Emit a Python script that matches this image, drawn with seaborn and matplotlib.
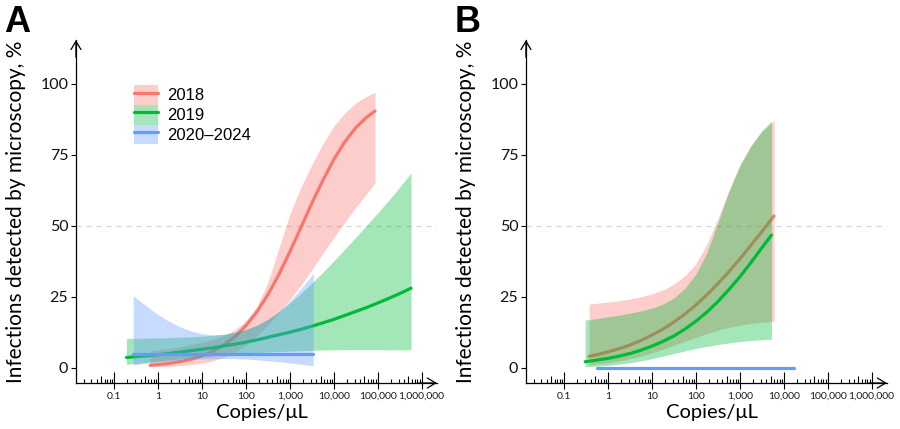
import numpy as np
import pandas as pd
import matplotlib
matplotlib.use("Agg")
import matplotlib.pyplot as plt
import seaborn as sns
from matplotlib.patches import Patch
from matplotlib.lines import Line2D
from matplotlib.legend_handler import HandlerTuple
from matplotlib.ticker import FixedLocator, NullFormatter, NullLocator

sns.set_theme(style="white")
plt.rcParams['font.family'] = ['Lato', 'DejaVu Sans']
plt.rcParams['text.color'] = 'black'

# ---------------- data ----------------
groups = ["2018", "2019", "2020\u20132024"]
colors = ["#F8766D", "#00BA38", "#619CFF"]

x_ticks = [0.1, 1, 10, 100, 1000, 10000, 100000, 1000000]
x_tick_labels = ["0.1", "1", "10", "100", "1,000", "10,000", "100,000", "1,000,000"]
y_ticks = [0, 25, 50, 75, 100]

# Panel A, 2018
a18_x = [0.66, 1, 1.78, 3.16, 5.62, 10, 17.8, 31.6, 56.2, 100, 178, 316, 562,
         1000, 1780, 3160, 5620, 10000, 17800, 31600, 56200, 87000]
a18_y = [0.85, 1.09, 1.52, 2.15, 2.99, 4.19, 5.8, 8.0, 10.9, 14.8, 19.7, 25.7,
         32.8, 40.8, 49.3, 57.9, 65.9, 73.3, 79.5, 84.5, 88.2, 90.4]
a18_hi = [6.0, 6.3, 6.8, 7.4, 8.1, 8.9, 9.9, 11.3, 13.4, 16.5, 21.5, 30.0,
          42.0, 54.0, 63.5, 71.5, 78.8, 85.0, 89.7, 93.2, 95.6, 97.0]
a18_lo = [0.28, 0.35, 0.5, 0.7, 1.05, 1.6, 2.4, 3.7, 5.5, 8.0, 11.2, 15.0,
          19.3, 24.0, 29.0, 34.5, 40.2, 45.8, 51.2, 56.4, 61.3, 65.0]

# Panel A, 2019
a19_x = [0.19, 0.316, 0.562, 1, 1.78, 3.16, 5.62, 10, 17.8, 31.6, 56.2, 100,
         178, 316, 562, 1000, 1780, 3160, 5620, 10000, 17800, 31600, 56200,
         100000, 178000, 316000, 575000]
a19_y = [3.6, 3.9, 4.2, 4.6, 5.0, 5.5, 6.0, 6.5, 7.0, 7.7, 8.3, 9.0, 9.8,
         10.7, 11.6, 12.5, 13.5, 14.6, 15.8, 17.0, 18.4, 19.8, 21.2, 22.8,
         24.4, 26.1, 28.0]
a19_hi = [10.3, 10.35, 10.4, 10.5, 10.6, 10.75, 10.9, 11.1, 11.4, 11.8, 12.5,
          13.5, 15.0, 17.0, 19.7, 22.8, 26.2, 29.8, 33.6, 37.6, 41.7, 45.9,
          50.2, 54.5, 58.9, 63.6, 68.6]
a19_lo = [1.2, 1.5, 1.9, 2.3, 2.7, 3.1, 3.5, 3.85, 4.2, 4.5, 4.8, 5.05, 5.3,
          5.5, 5.7, 5.85, 6.0, 6.15, 6.25, 6.3, 6.35, 6.35, 6.35, 6.35, 6.3,
          6.3, 6.25]

# Panel A, 2020-2024
a20_x = [0.27, 0.316, 0.562, 1, 1.78, 3.16, 5.62, 10, 17.8, 31.6, 56.2, 100,
         178, 316, 562, 1000, 1780, 3160, 3400]
a20_hi = [25.4, 24.5, 21.5, 18.7, 16.3, 14.4, 12.9, 12.0, 11.6, 11.7, 12.3,
          13.4, 15.0, 17.1, 19.8, 23.5, 27.8, 32.6, 33.2]
a20_lo = [0.9, 1.1, 1.6, 2.0, 2.4, 2.7, 2.95, 3.1, 3.2, 3.25, 3.2, 3.05, 2.8,
          2.5, 2.1, 1.65, 1.2, 0.75, 0.7]
a20_line_x = [0.27, 3400]
a20_line_y = [5.0, 5.0]

# Panel B, 2018
b18_x = [0.37, 0.562, 1, 1.78, 3.16, 5.62, 10, 17.8, 31.6, 56.2, 100, 178,
         316, 562, 1000, 1780, 3160, 5620, 6000]
b18_y = [4.0, 4.6, 5.6, 6.7, 8.0, 9.6, 11.5, 13.6, 16.1, 18.9, 22.1, 25.7,
         29.6, 33.8, 38.3, 43.1, 47.9, 52.9, 53.4]
b18_hi = [22.4, 22.7, 23.1, 23.6, 24.2, 25.0, 26.0, 27.4, 29.4, 32.4, 36.6,
          43.5, 52.5, 62.5, 71.5, 78.3, 83.0, 86.6, 87.0]
b18_lo = [1.0, 1.3, 1.8, 2.4, 3.2, 4.1, 5.2, 6.5, 7.9, 9.3, 10.7, 12.0, 13.2,
          14.2, 15.0, 15.6, 16.0, 16.3, 16.35]

# Panel B, 2019
b19_x = [0.3, 0.562, 1, 1.78, 3.16, 5.62, 10, 17.8, 31.6, 56.2, 100, 178, 316,
         562, 1000, 1780, 3160, 5250]
b19_y = [2.1, 2.7, 3.3, 4.1, 5.0, 6.2, 7.6, 9.3, 11.2, 13.6, 16.4, 19.6, 23.3,
         27.5, 32.0, 37.0, 42.2, 46.7]
b19_hi = [16.8, 17.3, 17.9, 18.5, 19.2, 20.0, 21.0, 22.4, 24.6, 28.0, 33.0,
          40.5, 51.0, 62.0, 71.0, 78.0, 83.5, 86.8]
b19_lo = [0.35, 0.55, 0.85, 1.25, 1.75, 2.4, 3.2, 4.1, 5.0, 5.9, 6.8, 7.5, 8.2,
          8.7, 9.2, 9.55, 9.85, 10.05]

# Panel B, 2020-2024 (no visible ribbon)
b20_line_x = [0.55, 17500]
b20_line_y = [0.0, 0.0]

panels = {
    "A": [((a18_x, a18_lo, a18_hi), (a18_x, a18_y)),
          ((a19_x, a19_lo, a19_hi), (a19_x, a19_y)),
          ((a20_x, a20_lo, a20_hi), (a20_line_x, a20_line_y))],
    "B": [((b18_x, b18_lo, b18_hi), (b18_x, b18_y)),
          ((b19_x, b19_lo, b19_hi), (b19_x, b19_y)),
          (None, (b20_line_x, b20_line_y))],
}

# ---------------- figure ----------------
fig = plt.figure(figsize=(9, 4.29), dpi=100)
axes = {
    "A": fig.add_axes([0.0844, 0.1072, 0.401, 0.7995]),
    "B": fig.add_axes([0.5844, 0.1072, 0.401, 0.7995]),
}

majors = [10.0 ** k for k in range(-1, 7)]
minors = [m * 10.0 ** k for k in range(-2, 6) for m in (2, 3, 4, 6, 7, 8, 9)]
mids = [5 * 10.0 ** k for k in range(-2, 6)]

for name, ax in axes.items():
    ax.set_xscale("log")
    ax.axhline(50, color="#D5D5D5", lw=0.9, ls=(0, (4, 4)), zorder=0.5)
    for i, (c, (band, line)) in enumerate(zip(colors, panels[name])):
        if band is not None:
            bdf = pd.DataFrame({"copies": band[0], "lo": band[1], "hi": band[2]})
            ax.fill_between(bdf["copies"], bdf["lo"], bdf["hi"], color=c,
                            alpha=0.36, lw=0, zorder=2 + 2 * i)
        ldf = pd.DataFrame({"copies": line[0], "pct": line[1]})
        sns.lineplot(data=ldf, x="copies", y="pct", color=c, lw=2.3, ax=ax,
                     estimator=None, sort=True, zorder=3 + 2 * i)

    ax.set_xlim(10 ** -1.872, 10 ** 6.348)
    ax.set_ylim(-5.39, 115.4)
    for s in ("top", "right"):
        ax.spines[s].set_visible(False)
    for s in ("left", "bottom"):
        ax.spines[s].set_color("black")
        ax.spines[s].set_linewidth(0.9)

    ax.set_xticks(x_ticks)
    ax.set_xticklabels(x_tick_labels)
    ax.xaxis.set_minor_locator(NullLocator())
    ax.tick_params(axis="x", which="major", direction="out", length=4,
                   width=0.8, color="black", labelsize=7.5, pad=2.5,
                   labelcolor="#1a1a1a", bottom=True)
    ax.set_yticks(y_ticks)
    ax.tick_params(axis="y", which="major", direction="out", length=3.5,
                   width=0.8, color="black", labelsize=11.5, pad=2,
                   labelcolor="#111111", left=True)

    # log ticks (inward) on the x axis
    sec = ax.secondary_xaxis(0)
    sec.spines["bottom"].set_visible(False)
    sec.xaxis.set_major_locator(FixedLocator(majors))
    sec.xaxis.set_minor_locator(FixedLocator(minors))
    sec.xaxis.set_major_formatter(NullFormatter())
    sec.xaxis.set_minor_formatter(NullFormatter())
    sec.tick_params(axis="x", which="major", direction="in", length=8, width=0.8, color="black")
    sec.tick_params(axis="x", which="minor", direction="in", length=3.2, width=0.8, color="black")
    sec2 = ax.secondary_xaxis(0)
    sec2.spines["bottom"].set_visible(False)
    sec2.xaxis.set_major_locator(FixedLocator(mids))
    sec2.xaxis.set_minor_locator(NullLocator())
    sec2.xaxis.set_major_formatter(NullFormatter())
    sec2.tick_params(axis="x", which="major", direction="in", length=5.4, width=0.8, color="black")

    # axis arrows
    for xy, xyt in (((1, 0), (0.95, 0)), ((0, 1), (0, 0.95))):
        ax.annotate("", xy=xy, xytext=xyt, xycoords="axes fraction",
                    arrowprops=dict(arrowstyle="->,head_length=0.5,head_width=0.3",
                                    color="black", lw=0.9, shrinkA=0, shrinkB=0),
                    annotation_clip=False)

    ax.set_xlabel("Copies/\u03bcL", fontsize=14.5, color="black")
    ax.set_ylabel("Infections detected by microscopy, %", fontsize=15, color="black")
    ax.xaxis.set_label_coords(0.515, -0.062)
    ax.yaxis.set_label_coords(-0.138, 0.5)

# legend in panel A
handles = [(Patch(facecolor=c, alpha=0.36, edgecolor="none"),
            Line2D([], [], color=c, lw=2.3)) for c in colors]
axes["A"].legend(handles, groups, handler_map={tuple: HandlerTuple(ndivide=1, pad=0)},
                 loc="upper left", bbox_to_anchor=(0.16, 0.869), borderaxespad=0,
                 borderpad=0, frameon=False, handlelength=1.45, handleheight=1.45,
                 labelspacing=0, handletextpad=0.55,
                 prop={"family": ["Liberation Sans", "DejaVu Sans"], "size": 12})

fig.text(0.004, 0.988, "A", fontsize=26, fontweight="bold", va="top", ha="left",
         color="black", family=["Liberation Sans", "DejaVu Sans"])
fig.text(0.505, 0.988, "B", fontsize=26, fontweight="bold", va="top", ha="left",
         color="black", family=["Liberation Sans", "DejaVu Sans"])

fig.savefig("out.png", dpi=100)
